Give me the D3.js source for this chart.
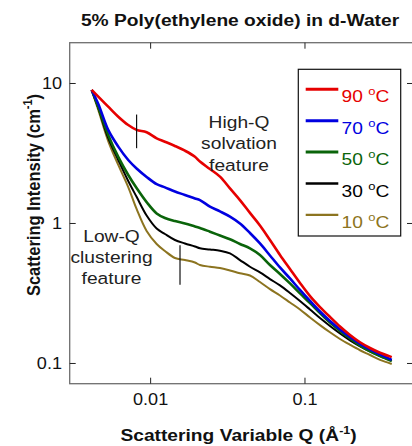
<!DOCTYPE html>
<html><head><meta charset="utf-8">
<script src="https://cdnjs.cloudflare.com/ajax/libs/d3/7.8.5/d3.min.js"></script>
<style>body{margin:0;background:#fff}svg{display:block;font-family:Arial,"Liberation Sans",sans-serif}</style>
</head><body><svg id="c" width="412" height="446"></svg>
<script>
const Q = [0.00415, 0.00458, 0.00531, 0.00617, 0.00716, 0.00811, 0.00942, 0.01094, 0.01238, 0.01437, 0.01668, 0.01937, 0.02087, 0.02423, 0.02813, 0.03266, 0.03791, 0.04401, 0.05109, 0.05932, 0.06887, 0.07995, 0.09282, 0.1078, 0.1251, 0.1452, 0.1686, 0.1957, 0.2273, 0.2638, 0.3063, 0.3648];
const I90 = [8.99, 8.05, 6.83, 5.79, 5.05, 4.66, 4.48, 4.06, 3.84, 3.58, 3.31, 3.00, 2.77, 2.45, 2.16, 1.78, 1.47, 1.19, 0.968, 0.762, 0.596, 0.473, 0.376, 0.303, 0.253, 0.215, 0.1837, 0.1598, 0.1417, 0.129, 0.1193, 0.111];
const I70 = [8.99, 7.14, 4.66, 3.54, 2.84, 2.47, 2.15, 1.91, 1.81, 1.69, 1.60, 1.51, 1.47, 1.32, 1.22, 1.12, 1.00, 0.855, 0.720, 0.591, 0.485, 0.405, 0.335, 0.2795, 0.235, 0.201, 0.175, 0.1546, 0.1382, 0.1259, 0.116, 0.106];
const I50 = [8.99, 6.79, 4.29, 2.99, 2.22, 1.79, 1.42, 1.18, 1.095, 1.04, 1.00, 0.952, 0.929, 0.874, 0.821, 0.771, 0.714, 0.665, 0.596, 0.505, 0.436, 0.373, 0.317, 0.270, 0.229, 0.196, 0.171, 0.151, 0.134, 0.122, 0.113, 0.104];
const I30 = [8.99, 6.68, 4.08, 2.84, 2.01, 1.55, 1.14, 0.921, 0.841, 0.762, 0.720, 0.685, 0.665, 0.652, 0.639, 0.612, 0.548, 0.491, 0.447, 0.401, 0.361, 0.319, 0.2795, 0.243, 0.211, 0.1853, 0.1638, 0.1464, 0.1327, 0.122, 0.113, 0.105];
const I10 = [8.99, 6.47, 3.88, 2.62, 1.82, 1.27, 0.884, 0.714, 0.636, 0.567, 0.548, 0.526, 0.505, 0.491, 0.481, 0.462, 0.441, 0.425, 0.382, 0.340, 0.306, 0.2727, 0.243, 0.2131, 0.188, 0.1670, 0.1496, 0.136, 0.1243, 0.115, 0.106, 0.0992];
const seriesNames = ["90", "70", "50", "30", "10"];
const seriesColors = ["#e60000", "#0000e0", "#0a640a", "#000000", "#8c7420"];
const seriesWidths = [2.6, 2.6, 2.6, 2, 2];
const seriesData = [I90, I70, I50, I30, I10];
const xTicks = [0.01, 0.1];
const yTicks = [0.1, 1, 10];
const xTickLabels = ["0.01", "0.1"];
const yTickLabels = ["0.1", "1", "10"];
const markerQ = [0.00811, 0.0155];
const markerLo = [3.45, 0.70];
const markerHi = [6.0, 0.365];

const S = 1.13; // horizontal stretch of lettering in the reference
const svg = d3.select("#c");
const L = 69.7, R = 413, T = 42.7, B = 383.7;
const x = d3.scaleLog().domain([0.00299, 0.501]).range([L, R]);
const y = d3.scaleLog().domain([0.0717, 19.56]).range([B, T]);

function label(px, py, anchor, size, weight, fill) {
  return svg.append("g").attr("transform", `translate(${px},${py}) scale(${S},1)`)
    .append("text").attr("text-anchor", anchor).attr("font-size", size)
    .attr("font-weight", weight).attr("fill", fill);
}

svg.append("rect").attr("x", L).attr("y", T).attr("width", R - L).attr("height", B - T)
  .attr("fill", "none").attr("stroke", "#6e6e6e").attr("stroke-width", 1.3);

const tk = 6;
const ax = svg.append("g").attr("stroke", "#222").attr("stroke-width", 1);
xTicks.forEach(v => {
  ax.append("line").attr("x1", x(v)).attr("x2", x(v)).attr("y1", B).attr("y2", B - tk);
  ax.append("line").attr("x1", x(v)).attr("x2", x(v)).attr("y1", T).attr("y2", T + tk);
});
yTicks.forEach(v => {
  ax.append("line").attr("y1", y(v)).attr("y2", y(v)).attr("x1", L).attr("x2", L + tk);
  ax.append("line").attr("y1", y(v)).attr("y2", y(v)).attr("x1", R).attr("x2", R - tk);
});
xTicks.forEach((v, i) => label(x(v), 405, "middle", 16, "normal", "#111").text(xTickLabels[i]));
yTicks.forEach((v, i) => label(62, y(v) + 6, "end", 16, "normal", "#111").text(yTickLabels[i]));

const line = d3.line().x(d => x(d[0])).y(d => y(d[1])).curve(d3.curveCatmullRom.alpha(0.5));
[4, 3, 2, 1, 0].forEach(k => {
  svg.append("path").datum(Q.map((q, i) => [q, seriesData[k][i]]))
    .attr("d", line).attr("fill", "none").attr("stroke", seriesColors[k])
    .attr("stroke-width", seriesWidths[k]).attr("stroke-linejoin", "round");
});

markerQ.forEach((q, i) => svg.append("line").attr("x1", x(q)).attr("x2", x(q))
  .attr("y1", y(markerHi[i])).attr("y2", y(markerLo[i])).attr("stroke", "#111").attr("stroke-width", 1.2));

const ann = [["High-Q", "solvation", "feature"], ["Low-Q", "clustering", "feature"]];
const annX = [239, 111.5], annY = [127.5, 241.5], annDy = [21.7, 21];
ann.forEach((lines, j) => lines.forEach((t, i) =>
  label(annX[j], annY[j] + i * annDy[j], "middle", 17, "normal", "#222").text(t)));

const lg = svg.append("g");
lg.append("rect").attr("x", 298.3).attr("y", 69.3).attr("width", 102.4).attr("height", 166.7)
  .attr("fill", "#fff").attr("stroke", "#111").attr("stroke-width", 1.2);
seriesNames.forEach((n, i) => {
  const ly = 89.3 + i * 31.4;
  lg.append("line").attr("x1", 305.7).attr("x2", 338.3).attr("y1", ly).attr("y2", ly)
    .attr("stroke", seriesColors[i]).attr("stroke-width", seriesWidths[i] + 0.4);
  const t = label(341.5, ly + 13, "start", 17, "normal", seriesColors[i]);
  t.append("tspan").text(n + " ");
  t.append("tspan").attr("font-size", 11.5).attr("dy", -7).text("o");
  t.append("tspan").attr("dy", 7).text("C");
});

label(240, 25.5, "middle", 17, "bold", "#111").text("5% Poly(ethylene oxide) in d-Water");

const xl = label(238.5, 441, "middle", 17, "bold", "#111");
xl.append("tspan").text("Scattering Variable Q (Å");
xl.append("tspan").attr("font-size", 11).attr("dy", -7).text("-1");
xl.append("tspan").attr("dy", 7).text(")");

const yl = svg.append("g").attr("transform", `translate(39.5,195) scale(${S},1) rotate(-90)`)
  .append("text").attr("text-anchor", "middle").attr("font-weight", "bold").attr("font-size", 16.5).attr("fill", "#111");
yl.append("tspan").text("Scattering Intensity (cm");
yl.append("tspan").attr("font-size", 11).attr("dy", -7).text("-1");
yl.append("tspan").attr("dy", 7).text(")");
</script></body></html>
